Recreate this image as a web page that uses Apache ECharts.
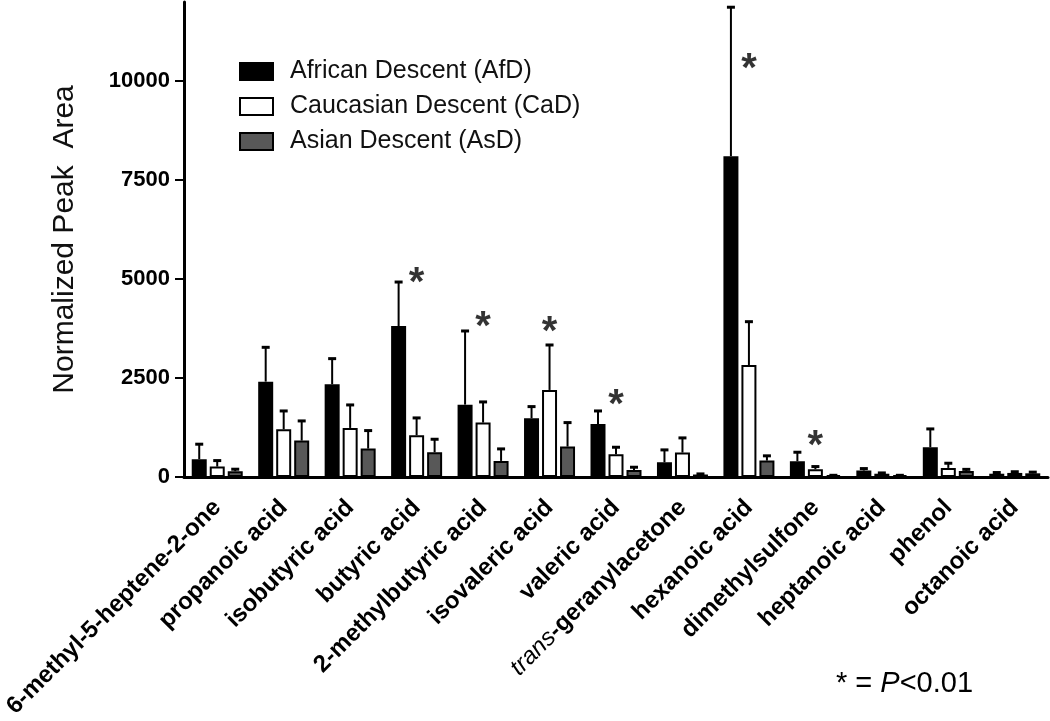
<!DOCTYPE html>
<html>
<head>
<meta charset="utf-8">
<script src="https://cdn.jsdelivr.net/npm/echarts@6/dist/echarts.min.js"></script>
<style>
html,body{margin:0;padding:0;background:#fff;}
#chart{width:1050px;height:721px;}
</style>
</head>
<body>
<div id="chart"></div>
<script>
const categories = ['6-methyl-5-heptene-2-one','propanoic acid','isobutyric acid','butyric acid','2-methylbutyric acid','isovaleric acid','valeric acid','trans-geranylacetone','hexanoic acid','dimethylsulfone','heptanoic acid','phenol','octanoic acid'];
const seriesNames = ['African Descent (AfD)','Caucasian Descent (CaD)','Asian Descent (AsD)'];
const afd    = [447, 2407, 2340, 3813, 1826, 1481, 1338, 370, 8105, 396, 160, 749, 80];
const afdErr = [379, 867, 648, 1111, 1861, 295, 328, 312, 3763, 227, 50, 463, 30];
const cad    = [260, 1203, 1237, 1052, 1372, 2197, 572, 614, 2828, 194, 80, 227, 100];
const cadErr = [152, 463, 581, 438, 522, 1136, 177, 371, 1094, 67, 20, 118, 30];
const asd    = [143, 917, 715, 623, 404, 766, 177, 60, 412, 40, 40, 150, 90];
const asdErr = [51, 497, 455, 328, 303, 606, 67, 15, 120, 0, 0, 40, 30];
const starCategories = ['butyric acid','2-methylbutyric acid','isovaleric acid','valeric acid','hexanoic acid','dimethylsulfone'];
const starValues = [5126, 4015, 3880, 2045, 10529, 1010];
const yTicks = [0, 2500, 5000, 7500, 10000];

const BAR_W = 15, BAR_STEP = 18;
const fills = ['#000000', '#ffffff', '#585858'];
const means = [afd, cad, asd];
const errs = [afdErr, cadErr, asdErr];

const chart = echarts.init(document.getElementById('chart'));

function errSeries(k) {
  const off = (k - 1) * BAR_STEP;
  return {
    type: 'custom',
    z: 5,
    silent: true,
    data: means[k].map((v, i) => [i, v, errs[k][i]]),
    renderItem: function (params, api) {
      const i = api.value(0), v = api.value(1), e = api.value(2);
      const p0 = api.coord([i, v]);
      const p1 = api.coord([i, v + e]);
      const x = p0[0] + off;
      return {
        type: 'group',
        children: [
          {type: 'line', shape: {x1: x, y1: p0[1], x2: x, y2: p1[1]}, style: {stroke: '#000', lineWidth: 2}},
          {type: 'line', shape: {x1: x - 4, y1: p1[1], x2: x + 4, y2: p1[1]}, style: {stroke: '#000', lineWidth: 3}}
        ]
      };
    }
  };
}

const barSeries = seriesNames.map((name, k) => ({
  name: name,
  type: 'bar',
  data: means[k],
  barWidth: BAR_W,
  barGap: '20%',
  itemStyle: {color: fills[k], borderColor: '#000', borderWidth: 2},
  z: 3
}));

chart.setOption({
  animation: false,
  backgroundColor: '#fff',
  grid: {left: 184, right: 2, top: 2, bottom: 244, containLabel: false},
  legend: {
    data: seriesNames,
    orient: 'vertical',
    left: 234, top: 54,
    itemWidth: 33, itemHeight: 17, itemGap: 10,
    icon: 'rect',
    textStyle: {fontSize: 25, color: '#111', fontFamily: 'Liberation Sans, Arial', padding: [0, 0, 0, 12]}
  },
  xAxis: {
    type: 'category',
    data: categories,
    axisLine: {lineStyle: {color: '#000', width: 3}},
    axisTick: {alignWithLabel: true, length: 9, lineStyle: {color: '#000', width: 2}},
    axisLabel: {
      interval: 0, rotate: 45, margin: 27,
      fontSize: 24, fontWeight: 'bold', color: '#000', fontFamily: 'Liberation Sans, Arial',
      formatter: function (v) {
        if (v.indexOf('trans-') === 0) return '{i|trans}-' + v.slice(6);
        return v;
      },
      rich: {i: {fontStyle: 'italic', fontWeight: 'normal', fontSize: 24, color: '#000', fontFamily: 'Liberation Sans, Arial'}}
    }
  },
  yAxis: {
    type: 'value',
    min: 0, max: 12000, interval: 2500,
    name: 'Normalized Peak  Area',
    nameLocation: 'middle',
    nameGap: 104,
    nameTextStyle: {fontSize: 30, color: '#111', fontFamily: 'Liberation Sans, Arial'},
    splitLine: {show: false},
    axisLine: {show: true, lineStyle: {color: '#000', width: 3}},
    axisTick: {show: true, length: 9, customValues: yTicks, lineStyle: {color: '#000', width: 2}},
    axisLabel: {
      customValues: yTicks,
      margin: 14, fontSize: 22, fontWeight: 'bold', color: '#000', fontFamily: 'Liberation Sans, Arial',
      formatter: function (v) { return yTicks.indexOf(v) >= 0 ? String(v) : ''; }
    }
  },
  series: barSeries.concat([errSeries(0), errSeries(1), errSeries(2), {
    type: 'scatter',
    symbolSize: 0,
    silent: true,
    z: 6,
    data: starCategories.map((c, j) => [c, starValues[j]]),
    label: {
      show: true, position: 'inside', formatter: '*',
      fontSize: 40, fontWeight: 'bold', color: '#000', fontFamily: 'Liberation Sans, Arial',
      offset: [0, 10]
    }
  }]),
  graphic: [{
    type: 'text', left: 836, top: 669,
    style: {
      text: '* = {p|P}<0.01',
      fontSize: 29, fill: '#000', fontFamily: 'Liberation Sans, Arial',
      rich: {p: {fontStyle: 'italic', fontSize: 29, fill: '#000', fontFamily: 'Liberation Sans, Arial'}}
    }
  }]
});
</script>
</body>
</html>
